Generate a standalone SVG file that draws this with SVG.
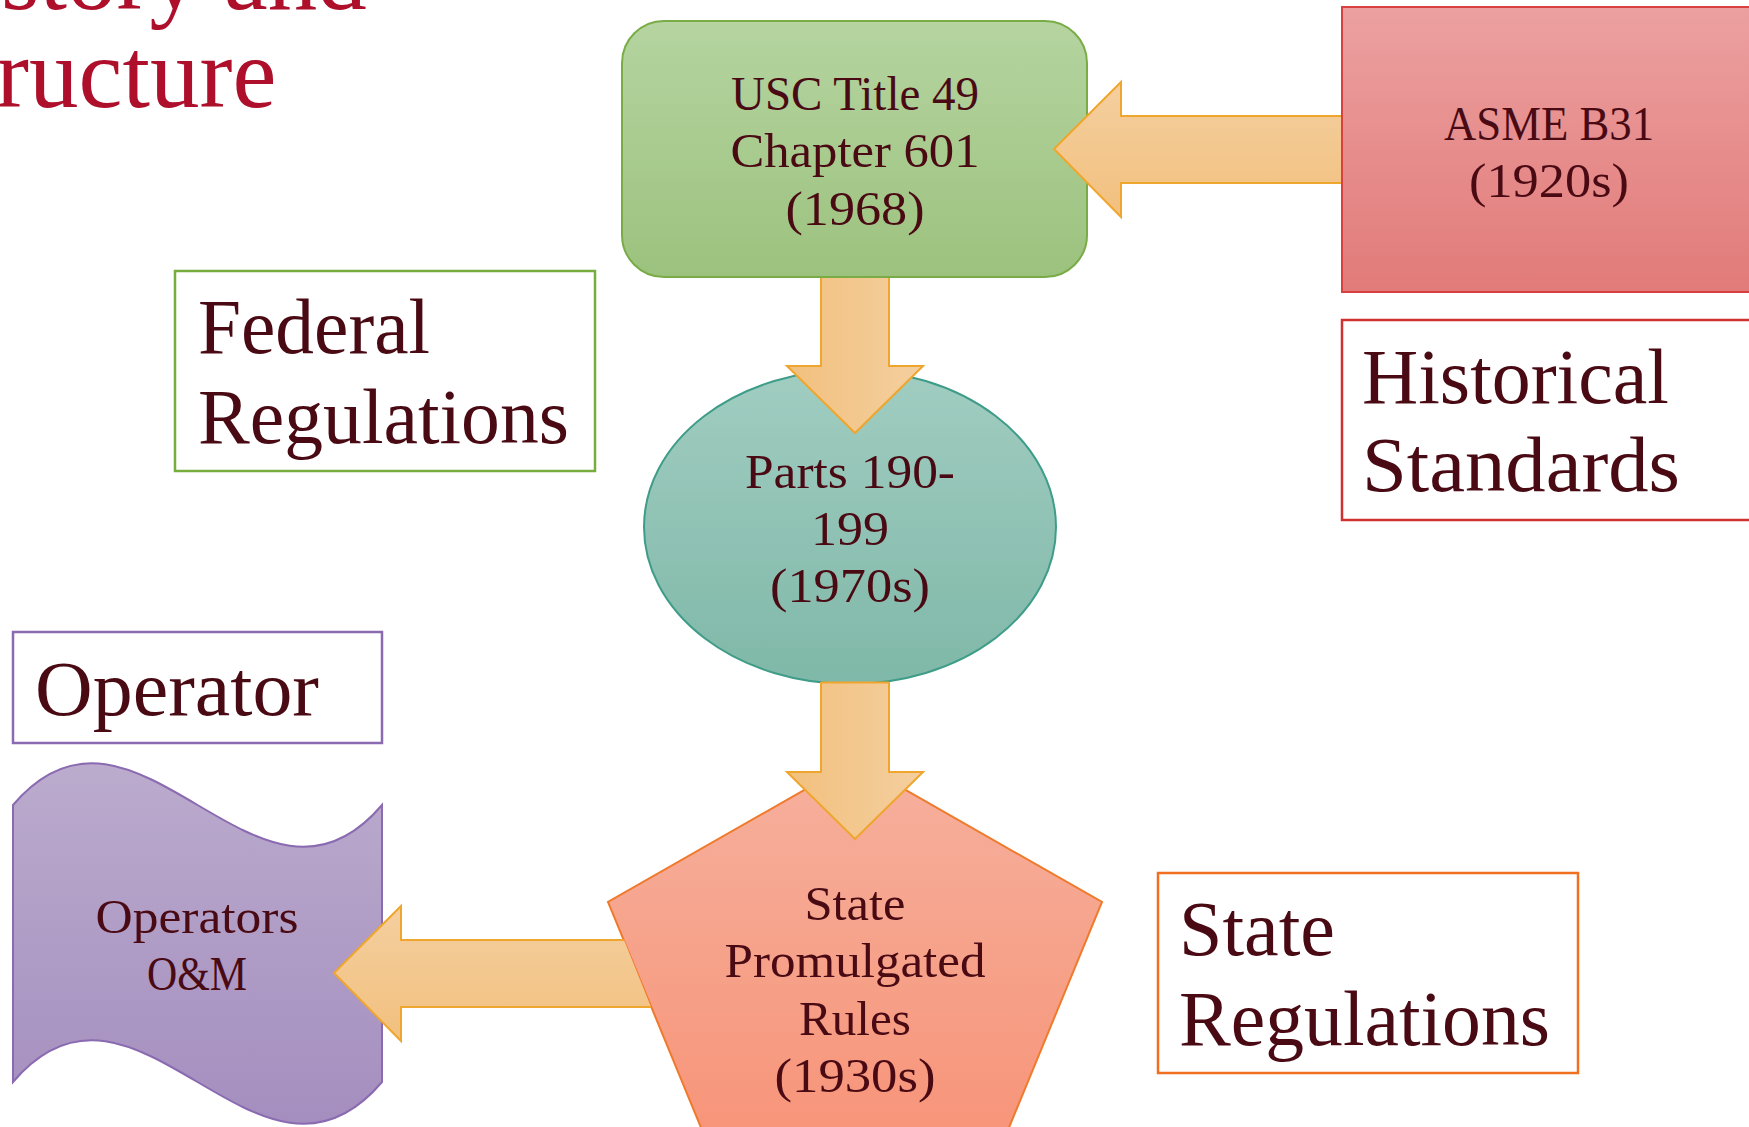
<svg xmlns="http://www.w3.org/2000/svg" width="1749" height="1127" viewBox="0 0 1749 1127">
  <defs>
    <linearGradient id="gGreen" x1="0" y1="0" x2="0" y2="1">
      <stop offset="0" stop-color="#B5D4A0"/>
      <stop offset="1" stop-color="#9CC27E"/>
    </linearGradient>
    <linearGradient id="gTeal" x1="0" y1="0" x2="0" y2="1">
      <stop offset="0" stop-color="#A1CDC1"/>
      <stop offset="1" stop-color="#7FB8A8"/>
    </linearGradient>
    <linearGradient id="gSalmon" x1="0" y1="0" x2="0" y2="1">
      <stop offset="0" stop-color="#F6B09D"/>
      <stop offset="1" stop-color="#F7957A"/>
    </linearGradient>
    <linearGradient id="gRed" x1="0" y1="0" x2="0" y2="1">
      <stop offset="0" stop-color="#ECA0A0"/>
      <stop offset="1" stop-color="#E17B79"/>
    </linearGradient>
    <linearGradient id="gPurple" x1="0" y1="0" x2="0" y2="1">
      <stop offset="0" stop-color="#BBABCD"/>
      <stop offset="1" stop-color="#A48EBF"/>
    </linearGradient>
    <linearGradient id="gArrowH" x1="0" y1="0" x2="1" y2="0">
      <stop offset="0" stop-color="#F2C07E"/>
      <stop offset="1" stop-color="#F4CF9F"/>
    </linearGradient>
    <linearGradient id="gArrowV" x1="0" y1="0" x2="0" y2="1">
      <stop offset="0" stop-color="#F4CF9F"/>
      <stop offset="1" stop-color="#F2C07E"/>
    </linearGradient>
  </defs>
  <style>
    .t { font-family: "Liberation Serif", "Times New Roman", serif; fill: #4A0A14; }
    .node { font-size: 49px; text-anchor: middle; }
    .label { font-size: 78px; }
    .title { font-family: "Liberation Serif", "Times New Roman", serif; font-size: 99px; fill: #AE0F2A; }
    .lbox { fill: #FFFFFF; stroke-width: 2.5; }
    .afill { stroke: none; }
    .aline { fill: none; stroke: #EFA62E; stroke-width: 2; stroke-linejoin: miter; }
  </style>
  <rect width="1749" height="1127" fill="#FFFFFF"/>

  <g id="title">
    <text class="title" x="1" y="9">story and</text>
    <text class="title" x="-4" y="107">ructure</text>
  </g>

  <g id="node-usc">
    <rect x="622" y="21" width="465" height="256" rx="42" ry="42" fill="url(#gGreen)" stroke="#79AC47" stroke-width="2"/>
    <text class="t node" x="855" y="110" textLength="248" lengthAdjust="spacingAndGlyphs">USC Title 49</text>
    <text class="t node" x="855" y="167" textLength="249" lengthAdjust="spacingAndGlyphs">Chapter 601</text>
    <text class="t node" x="855" y="225" textLength="139" lengthAdjust="spacingAndGlyphs">(1968)</text>
  </g>

  <g id="node-asme">
    <rect x="1342" y="7" width="450" height="285" fill="url(#gRed)" stroke="#D8413F" stroke-width="2"/>
    <text class="t node" x="1549" y="140" textLength="210" lengthAdjust="spacingAndGlyphs">ASME B31</text>
    <text class="t node" x="1549" y="197" textLength="160" lengthAdjust="spacingAndGlyphs">(1920s)</text>
  </g>

  <g id="label-historical">
    <rect class="lbox" x="1342" y="320" width="450" height="200" stroke="#D0302E"/>
    <text class="t label" x="1362" y="403" textLength="307" lengthAdjust="spacingAndGlyphs">Historical</text>
    <text class="t label" x="1362" y="491" textLength="318" lengthAdjust="spacingAndGlyphs">Standards</text>
  </g>

  <g id="label-federal">
    <rect class="lbox" x="175" y="271" width="420" height="200" stroke="#77AC3E"/>
    <text class="t label" x="198" y="353" textLength="232" lengthAdjust="spacingAndGlyphs">Federal</text>
    <text class="t label" x="198" y="443" textLength="371" lengthAdjust="spacingAndGlyphs">Regulations</text>
  </g>

  <g id="node-parts">
    <ellipse cx="850" cy="527" rx="206" ry="157" fill="url(#gTeal)" stroke="#3E9C88" stroke-width="2"/>
    <text class="t node" x="850" y="488" textLength="210" lengthAdjust="spacingAndGlyphs">Parts 190-</text>
    <text class="t node" x="850" y="545" textLength="78" lengthAdjust="spacingAndGlyphs">199</text>
    <text class="t node" x="850" y="602" textLength="160" lengthAdjust="spacingAndGlyphs">(1970s)</text>
  </g>

  <g id="label-operator">
    <rect class="lbox" x="13" y="632" width="369" height="111" stroke="#8A6AB0"/>
    <text class="t label" x="35" y="715" textLength="284" lengthAdjust="spacingAndGlyphs">Operator</text>
  </g>

  <g id="node-operators">
    <path d="M13,805 C136,660 259,950 382,805 L382,1082 C259,1227 136,937 13,1082 Z" fill="url(#gPurple)" stroke="#8A6AB0" stroke-width="2"/>
    <text class="t node" x="197" y="933" textLength="203" lengthAdjust="spacingAndGlyphs">Operators</text>
    <text class="t node" x="197" y="990" textLength="100" lengthAdjust="spacingAndGlyphs">O&amp;M</text>
  </g>

  <g id="node-state">
    <polygon points="855,761 1102,902 1008,1130 702,1130 608,902" fill="url(#gSalmon)" stroke="#F07A2C" stroke-width="2"/>
    <text class="t node" x="855" y="920" textLength="101" lengthAdjust="spacingAndGlyphs">State</text>
    <text class="t node" x="855" y="977" textLength="261" lengthAdjust="spacingAndGlyphs">Promulgated</text>
    <text class="t node" x="855" y="1035" textLength="112" lengthAdjust="spacingAndGlyphs">Rules</text>
    <text class="t node" x="855" y="1092" textLength="161" lengthAdjust="spacingAndGlyphs">(1930s)</text>
  </g>

  <g id="label-state">
    <rect class="lbox" x="1158" y="873" width="420" height="200" stroke="#F07020"/>
    <text class="t label" x="1179" y="955" textLength="156" lengthAdjust="spacingAndGlyphs">State</text>
    <text class="t label" x="1179" y="1045" textLength="371" lengthAdjust="spacingAndGlyphs">Regulations</text>
  </g>

  <g id="connectors">
    <g id="arrow-asme-usc">
      <polygon class="afill" fill="url(#gArrowV)" points="1054,149 1121,82 1121,116 1341,116 1341,183 1121,183 1121,217"/>
      <polyline class="aline" points="1341,116 1121,116 1121,82 1054,149 1121,217 1121,183 1341,183"/>
    </g>
    <g id="arrow-usc-parts">
      <polygon class="afill" fill="url(#gArrowH)" points="821,278 889,278 889,366 923,366 855,433 787,366 821,366"/>
      <polyline class="aline" points="821,278 821,366 787,366 855,433 923,366 889,366 889,278"/>
    </g>
    <g id="arrow-parts-state">
      <polygon class="afill" fill="url(#gArrowH)" points="821,682 889,682 889,772 923,772 855,839 787,772 821,772"/>
      <polyline class="aline" points="821,682 821,772 787,772 855,839 923,772 889,772 889,682"/>
      <line class="aline" x1="821" y1="682.5" x2="889" y2="682.5"/>
    </g>
    <g id="arrow-state-operators">
      <polygon class="afill" fill="url(#gArrowV)" points="334,973 401,906 401,940 624,940 651,1007 401,1007 401,1041"/>
      <polyline class="aline" points="624,940 401,940 401,906 334,973 401,1041 401,1007 651,1007"/>
    </g>
  </g>
</svg>
